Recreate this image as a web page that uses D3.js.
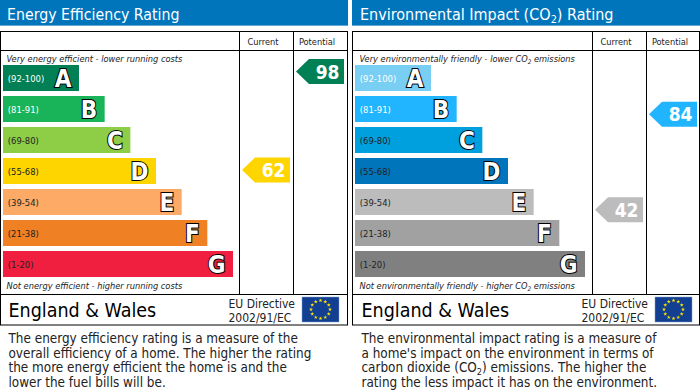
<!DOCTYPE html>
<html>
<head>
<meta charset="utf-8">
<script src="https://cdn.jsdelivr.net/npm/d3@7"></script>
<style>
  html, body { margin: 0; padding: 0; background: #fff; }
  svg { display: block; }
  text { font-family: "DejaVu Sans Condensed", "DejaVu Sans", sans-serif; }
</style>
</head>
<body>
<div id="chart"></div>
<script>
// Rating bands
const letters = ["A", "B", "C", "D", "E", "F", "G"];
const ranges = ["(92-100)", "(81-91)", "(69-80)", "(55-68)", "(39-54)", "(21-38)", "(1-20)"];
const bandTop = [100, 91, 80, 68, 54, 38, 20];
const bandBottom = [92, 81, 69, 55, 39, 21, 1];

// Energy efficiency panel
const energyColours = ["#008054", "#19b459", "#8dce46", "#ffd500", "#fcaa65", "#ef8023", "#f01f3f"];
const energyRangeColours = ["#fff", "#fff", "#222", "#222", "#222", "#222", "#222"];
const energyCurrent = 62;
const energyPotential = 98;
const energyText = [
    "The energy efficiency rating is a measure of the",
    "overall efficiency of a home. The higher the rating",
    "the more energy efficient the home is and the",
    "lower the fuel bills will be."
];

// Environmental panel
const envColours = ["#79cef4", "#22b5ff", "#00a0de", "#0075bc", "#bcbcbc", "#a1a1a1", "#808080"];
const envRangeColours = ["#fff", "#fff", "#222", "#222", "#222", "#222", "#222"];
const envCurrent = 42;
const envPotential = 84;
const envText = [
    "The environmental impact rating is a measure of",
    "a home's impact on the environment in terms of",
    "carbon dioxide (CO|2|) emissions. The higher the",
    "rating the less impact it has on the environment."
];

const width = 700, height = 391;

const svg = d3.select("#chart").append("svg")
    .attr("width", width)
    .attr("height", height);

// Bars stacked down the chart
const y = d3.scaleBand()
    .domain(letters)
    .range([65, 277])
    .paddingInner(5 / 31);

// Values sit inside their own band, so this is piecewise over the bands
const valueY = d3.scaleLinear()
    .domain(bandTop.flatMap((d, i) => [d, bandBottom[i]]))
    .range(letters.flatMap((d) => [y(d), y(d) + y.bandwidth()]));

// Each bar steps out by the same amount
const barEnd = d3.scaleLinear()
    .domain([0, letters.length - 1])
    .range([76, 230]);

// Write a string, "|" toggles subscript
function addRich(sel, str, fontSize) {
    str.split("|").forEach((part, i) => {
        if (i % 2) {
            sel.append("tspan")
                .attr("font-size", fontSize * 0.68)
                .attr("dy", fontSize * 0.2)
                .text(part);
        } else {
            sel.append("tspan")
                .attr("dy", i ? -fontSize * 0.2 : 0)
                .text(part);
        }
    });
}

function drawPanel(cfg) {
    const g = svg.append("g").attr("transform", `translate(${cfg.x}, 0)`);

    // Header
    g.append("rect")
        .attr("x", 0).attr("y", 0)
        .attr("width", cfg.headW).attr("height", 26)
        .attr("fill", "#0075bc");
    g.append("rect")
        .attr("x", 0).attr("y", 25)
        .attr("width", cfg.headW).attr("height", 1)
        .attr("fill", "#5fa8d8");
    g.append("text")
        .attr("x", cfg.pad - 1.5).attr("y", 20)
        .attr("font-size", cfg.titleSize)
        .attr("fill", "#fff")
        .call(addRich, cfg.title, cfg.titleSize);

    // Frame
    const frame = g.append("g")
        .attr("fill", "none")
        .attr("stroke", "#000");
    frame.append("rect")
        .attr("x", 0.5).attr("y", 31.5)
        .attr("width", cfg.w).attr("height", 293.5);
    frame.append("path")
        .attr("d", `M0.5,50.5H${cfg.w + 0.5}M0.5,294.5H${cfg.w + 0.5}`
            + `M${cfg.col1 + 0.5},31.5V294.5M${cfg.col2 + 0.5},31.5V294.5`);

    g.append("text")
        .attr("x", cfg.col1 + 24).attr("y", 45)
        .attr("text-anchor", "middle").attr("font-size", 9.2)
        .attr("fill", "#222")
        .text("Current");
    g.append("text")
        .attr("x", cfg.col2 + 24).attr("y", 45)
        .attr("text-anchor", "middle").attr("font-size", 9.2)
        .attr("fill", "#222")
        .text("Potential");

    // Top and bottom captions
    g.append("text")
        .attr("x", cfg.pad - 2).attr("y", 62)
        .attr("font-size", 9.2).attr("font-style", "italic")
        .attr("fill", "#222")
        .call(addRich, cfg.topNote, 9.2);
    g.append("text")
        .attr("x", cfg.pad - 2).attr("y", 289)
        .attr("font-size", 9.2).attr("font-style", "italic")
        .attr("fill", "#222")
        .call(addRich, cfg.bottomNote, 9.2);

    // Bars
    const bars = g.selectAll("g.band")
        .data(letters)
        .join("g")
        .attr("class", "band")
        .attr("transform", (d) => `translate(3, ${y(d)})`);

    bars.append("rect")
        .attr("width", (d, i) => barEnd(i))
        .attr("height", y.bandwidth())
        .attr("fill", (d, i) => cfg.colours[i]);

    bars.append("text")
        .attr("x", 4.8)
        .attr("y", y.bandwidth() / 2 + 3.5)
        .attr("font-size", 9.4)
        .attr("fill", (d, i) => cfg.rangeColours[i])
        .text((d, i) => ranges[i]);

    bars.append("text")
        .attr("x", (d, i) => barEnd(i) - 7.5)
        .attr("y", y.bandwidth() / 2 + 8.5)
        .attr("text-anchor", "end")
        .attr("font-size", 24)
        .attr("font-weight", "bold")
        .attr("fill", "#fff")
        .attr("stroke", "#000")
        .attr("stroke-width", 2)
        .attr("paint-order", "stroke")
        .text((d) => d);

    // Rating arrows
    drawArrow(g, cfg, cfg.col1 + 3, cfg.current);
    drawArrow(g, cfg, cfg.col2 + 3, cfg.potential);

    // England & Wales row
    g.append("text")
        .attr("x", cfg.pad).attr("y", 317)
        .attr("font-size", 19.5)
        .attr("fill", "#000")
        .text("England & Wales");
    g.append("text")
        .attr("x", cfg.col1 - 10.5).attr("y", 308)
        .attr("font-size", 12)
        .attr("fill", "#222")
        .text("EU Directive");
    g.append("text")
        .attr("x", cfg.col1 - 10.5).attr("y", 322)
        .attr("font-size", 12)
        .attr("fill", "#222")
        .text("2002/91/EC");
    drawFlag(g, cfg.col2 + 9, 297);

    // Description
    g.selectAll("text.about")
        .data(cfg.text)
        .join("text")
        .attr("class", "about")
        .attr("x", cfg.pad)
        .attr("y", (d, i) => 343 + i * 14.6)
        .attr("font-size", 13.4)
        .attr("fill", "#222")
        .each(function(d) { addRich(d3.select(this), d, 13.4); });
}

function drawArrow(g, cfg, x0, value) {
    const i = letters.findIndex((d, k) => value >= bandBottom[k]);
    const c = valueY(value);
    const a = g.append("g").attr("transform", `translate(${x0}, ${c})`);
    const line = d3.line();
    a.append("path")
        .attr("d", line([[0, 0], [13, -12.5], [48, -12.5], [48, 12.5], [13, 12.5]]) + "Z")
        .attr("fill", cfg.colours[i]);
    a.append("text")
        .attr("x", 43.5).attr("y", 7)
        .attr("text-anchor", "end")
        .attr("font-size", 19)
        .attr("font-weight", "bold")
        .attr("fill", "#fff")
        .text(value);
}

// EU flag, twelve stars in a ring
function drawFlag(g, x0, y0) {
    const f = g.append("g").attr("transform", `translate(${x0}, ${y0})`);
    f.append("rect")
        .attr("width", 37).attr("height", 25)
        .attr("fill", "#123f91")
        .attr("stroke", "#7f9fc8").attr("stroke-width", 0.5);
    const star = d3.symbol().type(d3.symbolStar).size(5);
    f.selectAll("path.star")
        .data(d3.range(12))
        .join("path")
        .attr("class", "star")
        .attr("d", star)
        .attr("fill", "#ffe500")
        .attr("transform", (d) => {
            const t = d / 12 * 2 * Math.PI;
            return `translate(${18.5 + 9.5 * Math.sin(t)}, ${12.5 - 9 * Math.cos(t)})`;
        });
}

drawPanel({
    x: 0, headW: 348, w: 347, col1: 239, col2: 293, pad: 8.5, titleSize: 15.75,
    title: "Energy Efficiency Rating",
    topNote: "Very energy efficient - lower running costs",
    bottomNote: "Not energy efficient - higher running costs",
    colours: energyColours, rangeColours: energyRangeColours,
    current: energyCurrent, potential: energyPotential,
    text: energyText
});

drawPanel({
    x: 352, headW: 348, w: 347, col1: 240, col2: 294, pad: 9.5, titleSize: 16,
    title: "Environmental Impact (CO|2|) Rating",
    topNote: "Very environmentally friendly - lower CO|2| emissions",
    bottomNote: "Not environmentally friendly - higher CO|2| emissions",
    colours: envColours, rangeColours: envRangeColours,
    current: envCurrent, potential: envPotential,
    text: envText
});
</script>
</body>
</html>
